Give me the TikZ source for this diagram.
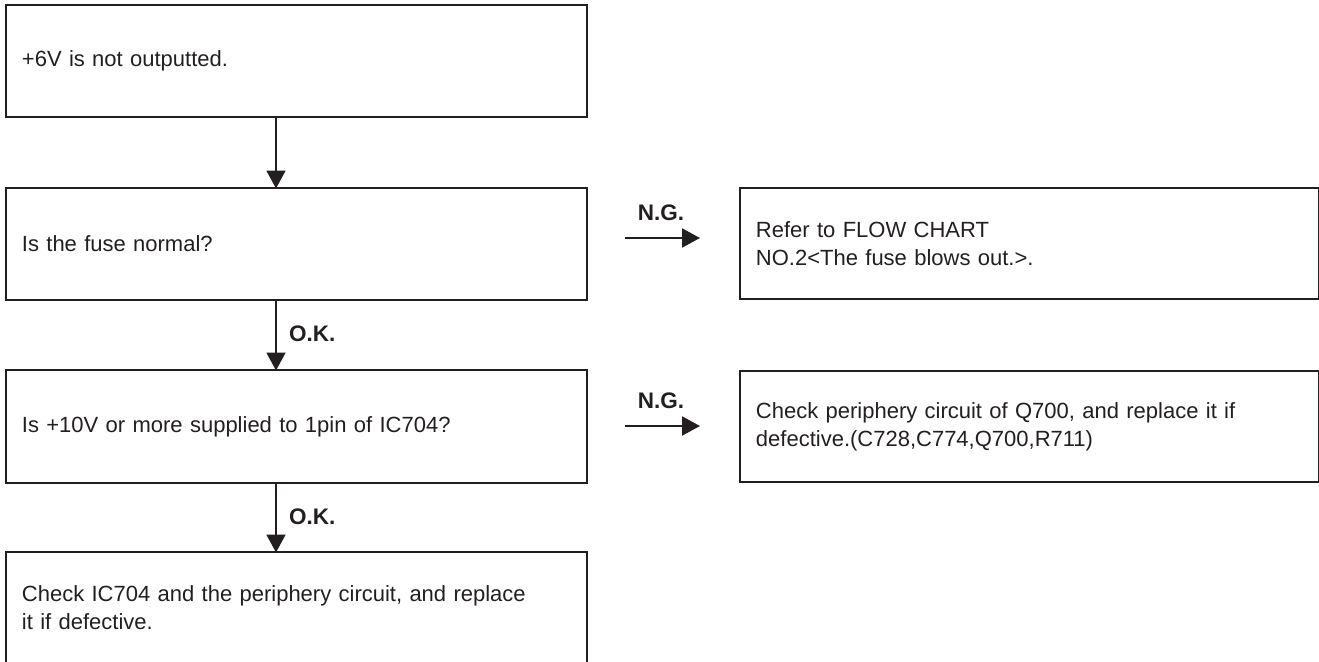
\documentclass[tikz,border=0pt]{standalone}
\usepackage{fontspec}
\setmainfont{Liberation Sans}
\usetikzlibrary{arrows.meta}
\definecolor{ink}{HTML}{231F20}
\begin{document}
\begin{tikzpicture}[x=1pt,y=-1pt,
  box/.style={draw=ink, line width=1.9pt, rectangle, anchor=north west, inner xsep=16pt, inner ysep=0pt, align=left, text=ink, font=\fontsize{22}{28}\selectfont},
  lbox/.style={box, minimum width=581pt, minimum height=112pt, text width=549pt},
  rbox/.style={box, minimum width=579pt, minimum height=111pt, text width=547pt},
  arr/.style={draw=ink, line width=1.9pt, -{Triangle[length=18pt,width=19pt]}},
  lab/.style={font=\bfseries\fontsize{22.5}{24}\selectfont, text=ink, inner sep=0pt}
]
\useasboundingbox (0,0) rectangle (1319,661);
\node[lbox] (b1) at (5,4) {+6V is not outputted.};
\node[lbox] (b2) at (5,187) {Is the fuse normal?};
\node[lbox, minimum height=113pt] (b3) at (5,369) {Is +10V or more supplied to 1pin of IC704?};
\node[lbox] (b4) at (5,551) {Check IC704 and the periphery circuit, and replace\\it if defective.};
\node[rbox] (r1) at (739,187) {Refer to FLOW CHART\\NO.2<The fuse blows out.>.};
\node[rbox] (r2) at (739,370) {Check periphery circuit of Q700, and replace it if\\defective.(C728,C774,Q700,R711)};
\coordinate (ax) at (276,0);
\draw[arr] (b1.south -| ax) -- ([yshift=-1.5pt]b2.north -| ax);
\draw[arr] (b2.south -| ax) -- ([yshift=-1.5pt]b3.north -| ax);
\draw[arr] (b3.south -| ax) -- ([yshift=-1.5pt]b4.north -| ax);
\node[lab, anchor=west] (ok1) at (289,334) {O.K.};
\node[lab, anchor=west] (ok2) at (289,517) {O.K.};
\coordinate (n1s) at (625,238);
\coordinate (n1e) at (700,238);
\coordinate (n2s) at (625,426);
\coordinate (n2e) at (700,426);
\draw[arr] (n1s) -- (n1e);
\draw[arr] (n2s) -- (n2e);
\node[lab] (ng1) at (661,213) {N.G.};
\node[lab] (ng2) at (661,401) {N.G.};
\end{tikzpicture}
\end{document}
